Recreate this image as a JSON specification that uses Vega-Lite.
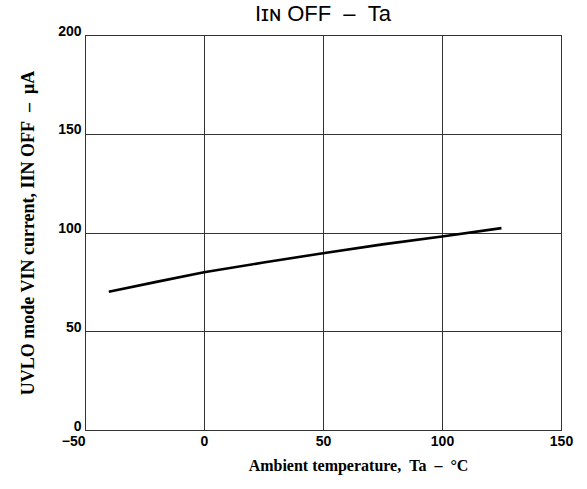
{
  "$schema": "https://vega.github.io/schema/vega-lite/v6.json",
  "autosize": "none",
  "width": 476,
  "height": 395,
  "padding": {"left": 85, "top": 35, "right": 26, "bottom": 59},
  "background": "white",
  "title": {
    "text": "Iɪɴ OFF\u00a0\u00a0–\u00a0\u00a0Ta",
    "font": "Liberation Sans",
    "fontSize": 22,
    "fontWeight": "normal",
    "color": "black",
    "anchor": "middle",
    "offset": -2
  },
  "data": {
    "values": [
      {"ta": -40, "i": 70.0},
      {"ta": -20, "i": 75.0},
      {"ta": 0, "i": 79.9},
      {"ta": 25, "i": 84.8},
      {"ta": 50, "i": 89.5},
      {"ta": 75, "i": 94.0},
      {"ta": 100, "i": 98.0},
      {"ta": 125, "i": 102.2}
    ]
  },
  "mark": {"type": "line", "color": "black", "strokeWidth": 2.6},
  "encoding": {
    "x": {
      "field": "ta",
      "type": "quantitative",
      "scale": {"domain": [-50, 150], "nice": false, "zero": false},
      "axis": {
        "values": [-50, 0, 50, 100, 150],
        "format": "d",
        "labelExpr": "replace(datum.label, '-', '–')",
        "labelAlign": {"condition": {"test": "datum.value < 0", "value": "right"}, "value": "center"},
        "labelFlush": false,
        "labelOverlap": false,
        "title": "Ambient temperature,\u00a0\u00a0Ta\u00a0\u00a0–\u00a0\u00a0°C",
        "titleFont": "Liberation Serif",
        "titleFontSize": 16,
        "titleFontWeight": "bold",
        "titleColor": "black",
        "titlePadding": 9,
        "titleX": 273,
        "titleAlign": "center",
        "labelFont": "Liberation Sans",
        "labelFontSize": 14,
        "labelFontWeight": "bold",
        "labelColor": "black",
        "labelPadding": 4,
        "ticks": false,
        "domain": false,
        "grid": true,
        "gridColor": "#333333",
        "gridWidth": 1,
        "gridOpacity": 1
      }
    },
    "y": {
      "field": "i",
      "type": "quantitative",
      "scale": {"domain": [0, 200], "nice": false},
      "axis": {
        "values": [0, 50, 100, 150, 200],
        "labelFlush": false,
        "labelOverlap": false,
        "labelOffset": -4,
        "title": "UVLO mode VIN current, IIN OFF\u00a0\u00a0–\u00a0\u00a0μA",
        "titleFont": "Liberation Serif",
        "titleFontSize": 18,
        "titleFontWeight": "bold",
        "titleColor": "black",
        "titlePadding": 20,
        "labelFont": "Liberation Sans",
        "labelFontSize": 14,
        "labelFontWeight": "bold",
        "labelColor": "black",
        "labelPadding": 4,
        "ticks": false,
        "domain": false,
        "grid": true,
        "gridColor": "#333333",
        "gridWidth": 1,
        "gridOpacity": 1
      }
    }
  },
  "config": {
    "view": {"stroke": "black", "strokeWidth": 1}
  }
}
